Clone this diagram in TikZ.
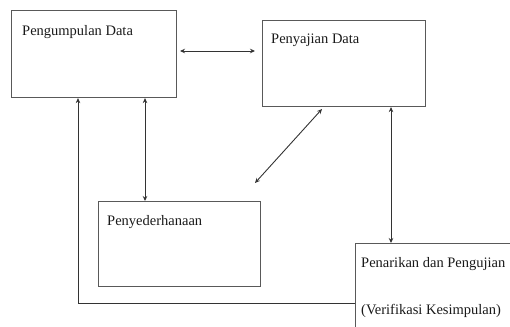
\documentclass[tikz,border=0pt]{standalone}
\usepackage{fontspec}
\setmainfont{Liberation Serif}
\usetikzlibrary{arrows.meta}
\begin{document}
\begin{tikzpicture}[x=1pt,y=-1pt,
  box/.style={draw=black!65, line width=1.1pt, rectangle, inner sep=0pt, anchor=north west},
  lbl/.style={anchor=base west, inner sep=0pt, font=\fontsize{14.5}{17}\selectfont, text=black!90},
  conn/.style={draw=black!80, line width=0.9pt},
  tipend/.style={-{Stealth[length=5pt,width=4.5pt]}},
  tipboth/.style={{Stealth[length=5pt,width=4.5pt]}-{Stealth[length=5pt,width=4.5pt]}}
]
\useasboundingbox (0,0) rectangle (510,326);
% boxes
\node[box, minimum width=165pt, minimum height=87pt] (A) at (11,10) {};
\node[box, minimum width=163pt, minimum height=86pt] (B) at (262,20) {};
\node[box, minimum width=162pt, minimum height=85pt] (C) at (98,201) {};
\node[box, minimum width=162pt, minimum height=92pt] (D) at (355,243) {};
% texts
\node[lbl] (tA) at (22,36) {Pengumpulan Data};
\node[lbl] (tB) at (271,44) {Penyajian Data};
\node[lbl] (tC) at (107,225) {Penyederhanaan};
\node[lbl] (tD1) at (361,267) {Penarikan dan Pengujian};
\node[lbl] (tD2) at (361,314) {(Verifikasi Kesimpulan)};
% free ends
\coordinate (ab1) at (180,51);
\coordinate (ab2) at (255,51);
\coordinate (dg1) at (322,109);
\coordinate (dg2) at (255,183);
\coordinate (corner) at (78,303);
% connectors
\draw[conn, tipboth] (ab1) -- (ab2);
\draw[conn, tipboth] (A.south west -| 145,0) -- (C.north west -| 145,0);
\draw[conn, tipboth] (dg1) -- (dg2);
\draw[conn, tipboth] (B.south west -| 391,0) -- (D.north west -| 391,0);
\draw[conn, tipend] (D.west |- corner) -- (corner) -- (A.south west -| corner);
\end{tikzpicture}
\end{document}
